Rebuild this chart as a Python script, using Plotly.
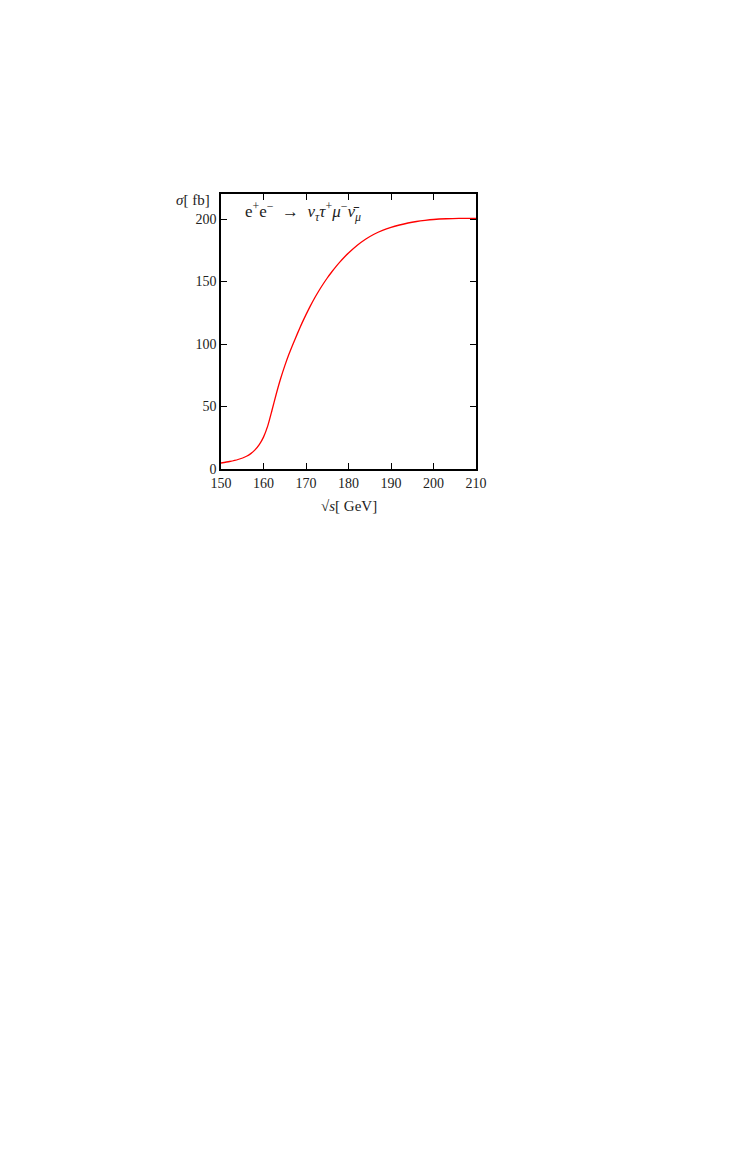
import plotly.graph_objects as go

sqrt_s = [150, 152, 154, 156, 157, 158, 159, 160, 161, 162, 163, 164, 165, 166, 167, 168, 169, 170,
          171, 172, 173, 174, 175, 176, 177, 178, 179, 180, 182, 184, 186, 188, 190, 192, 194, 196,
          198, 200, 203, 206, 210]
sigma = [4.8, 6.0, 7.6, 10.2, 12.3, 15.3, 19.5, 25.5, 34.5, 47, 60, 72, 82.5, 92, 100.5, 108.5, 116.3, 123.5,
         130.3, 136.6, 142.4, 147.8, 152.8, 157.4, 161.7, 165.7, 169.4, 172.8, 178.8, 183.8, 187.8, 190.9,
         193.3, 195.2, 196.8, 198, 198.9, 199.6, 200.2, 200.5, 200.5]

x_ticks = [150, 160, 170, 180, 190, 200, 210]
y_ticks = [0, 50, 100, 150, 200]

FONT = "Liberation Serif"
TXT = "#222222"

fig = go.Figure()
fig.add_trace(go.Scatter(x=sqrt_s, y=sigma, mode="lines",
                         line=dict(color="#ff0000", width=1.3, shape="spline", smoothing=0.6),
                         showlegend=False, hoverinfo="skip"))

axis_common = dict(showline=True, linecolor="black", linewidth=1.5, mirror="ticks",
                   ticks="inside", ticklen=6, tickwidth=1.3, tickcolor="black",
                   showgrid=False, zeroline=False,
                   tickfont=dict(family=FONT, size=14, color=TXT))

fig.update_xaxes(range=[150, 210], tickvals=x_ticks, ticktext=[str(v) for v in x_ticks], **axis_common)
fig.update_yaxes(range=[0, 220], tickvals=y_ticks, ticktext=[str(v) for v in y_ticks], **axis_common)

fig.add_annotation(xref="paper", yref="paper", x=-0.035, y=0.978, xanchor="right", yanchor="middle",
                   text="<i>σ</i>[ fb]", showarrow=False,
                   font=dict(family=FONT, size=15, color=TXT))
fig.add_annotation(xref="paper", yref="paper", x=0.5, y=-0.135, xanchor="center", yanchor="middle",
                   text="√<i>s</i>[ GeV]", showarrow=False,
                   font=dict(family=FONT, size=15, color=TXT))
fig.add_annotation(xref="paper", yref="paper", x=0.085, y=0.935, xanchor="left", yanchor="middle",
                   text="e<sup>+</sup>e<sup>−</sup> &nbsp;→ &nbsp;<i>ν</i><sub><i>τ</i></sub><i>τ</i><sup>+</sup><i>μ</i><sup>−</sup><i>ν̄</i><sub><i>μ</i></sub>",
                   showarrow=False, font=dict(family=FONT, size=17, color=TXT))

fig.update_layout(width=729, height=1154,
                  margin=dict(l=213, r=261, t=186, b=693, autoexpand=False),
                  paper_bgcolor="white", plot_bgcolor="white")

fig.write_html("out.html")
